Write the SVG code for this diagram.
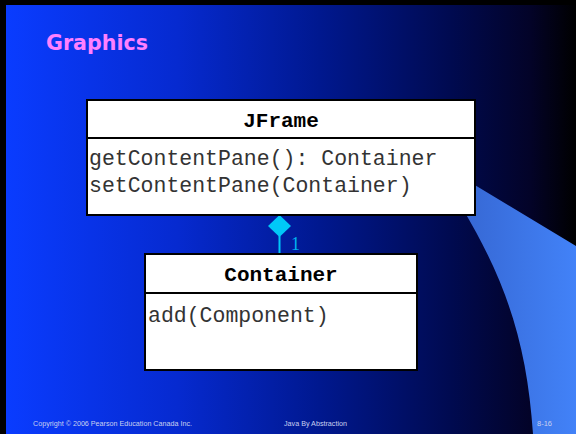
<svg xmlns="http://www.w3.org/2000/svg" width="576" height="434" viewBox="0 0 576 434">
  <defs>
    <linearGradient id="bg" x1="0" y1="0" x2="1" y2="0">
      <stop offset="0" stop-color="#0a3cff"/>
      <stop offset="0.3" stop-color="#062ad0"/>
      <stop offset="0.55" stop-color="#00188f"/>
      <stop offset="0.78" stop-color="#000a50"/>
      <stop offset="0.92" stop-color="#030328"/>
      <stop offset="1" stop-color="#000000"/>
    </linearGradient>
    <linearGradient id="band" x1="440" y1="0" x2="576" y2="0" gradientUnits="userSpaceOnUse">
      <stop offset="0" stop-color="#3462cc"/>
      <stop offset="1" stop-color="#4282f8"/>
    </linearGradient>
    <style>
      .box { fill: #ffffff; stroke: #000000; stroke-width: 2; }
      .div { stroke: #000000; stroke-width: 2; }
      .cls { font-family: "Liberation Mono", "Courier New", monospace; font-size: 21px; font-weight: bold; fill: #000000; text-anchor: middle; }
      .op  { font-family: "Liberation Mono", "Courier New", monospace; font-size: 21.5px; fill: #333333; }
      .foot { font-family: "Liberation Sans", Arial, sans-serif; font-size: 7.5px; fill: #c8d0f0; }
      .link { stroke: #00c8f8; stroke-width: 2; fill: none; }
    </style>
  </defs>

  <!-- slide background -->
  <rect x="0" y="0" width="576" height="434" fill="#000000"/>
  <rect x="6" y="5" width="570" height="429" fill="url(#bg)"/>
  <path d="M 430 158 L 576 246 L 576 434 L 533 434 C 526 330 500 260 430 158 Z" fill="url(#band)"/>

  <!-- title -->
  <text x="46" y="50" font-family="'Comic Sans MS', 'DejaVu Sans', sans-serif" font-size="21" font-weight="bold" fill="#ff80ff" textLength="102" lengthAdjust="spacingAndGlyphs">Graphics</text>

  <!-- connectors -->
  <g id="connectors">
    <line class="link" x1="279.5" y1="236" x2="279.5" y2="254"/>
    <polygon points="279.5,215 291,226 279.5,237 268,226" fill="#00c8f8"/>
    <text x="291" y="250" font-family="'Liberation Serif', 'Times New Roman', serif" font-size="18" fill="#00b4f0">1</text>
  </g>

  <!-- JFrame class -->
  <g id="jframe">
    <rect class="box" x="87" y="100" width="388" height="115"/>
    <line class="div" x1="87" y1="138" x2="475" y2="138"/>
    <text class="cls" x="281" y="127">JFrame</text>
    <text class="op" x="89" y="165">getContentPane(): Container</text>
    <text class="op" x="89" y="192">setContentPane(Container)</text>
  </g>

  <!-- Container class -->
  <g id="container">
    <rect class="box" x="145" y="254" width="272" height="116"/>
    <line class="div" x1="145" y1="293" x2="417" y2="293"/>
    <text class="cls" x="281" y="281">Container</text>
    <text class="op" x="148" y="322">add(Component)</text>
  </g>

  <!-- footer -->
  <text class="foot" x="33" y="426" textLength="159" lengthAdjust="spacingAndGlyphs">Copyright © 2006 Pearson Education Canada Inc.</text>
  <text class="foot" x="284" y="426" textLength="63" lengthAdjust="spacingAndGlyphs">Java By Abstraction</text>
  <text class="foot" x="537" y="426">8-16</text>
</svg>
